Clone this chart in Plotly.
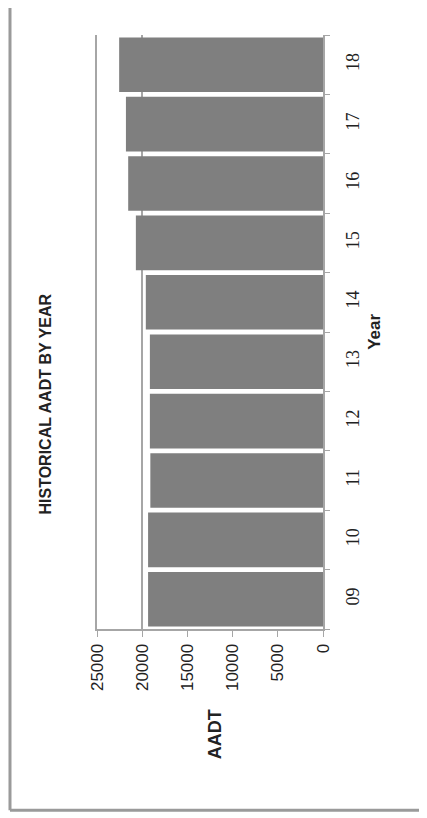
import plotly.graph_objects as go

# -----------------------------
# Data
# -----------------------------
years = ["09", "10", "11", "12", "13", "14", "15", "16", "17", "18"]
aadt = [19350, 19350, 19100, 19150, 19150, 19600, 20700, 21550, 21800, 22550]
value_ticks = [0, 5000, 10000, 15000, 20000, 25000]
ref_line = [20000]

bar_color = "#7f7f7f"
axis_color = "#a6a6a6"
text_color = "#222222"

fig = go.Figure()

fig.add_trace(go.Bar(
    x=aadt, y=years, orientation="h",
    marker=dict(color=bar_color, line=dict(width=0)),
    showlegend=False, xaxis="x", yaxis="y"
))
# invisible helper so the overlay axis (20000 grid line) gets drawn
fig.add_trace(go.Scatter(
    x=aadt, y=years, mode="none", hoverinfo="skip",
    showlegend=False, xaxis="x2", yaxis="y"
))

# -----------------------------
# Layout (page body adds 8px, so the figure is drawn 8px smaller)
# -----------------------------
fig.update_layout(
    width=419, height=810,
    margin=dict(l=89, r=104, t=27, b=189),
    paper_bgcolor="white",
    plot_bgcolor="white",
    bargap=0.08,
    xaxis=dict(
        range=[25000, 0],
        tickvals=value_ticks,
        ticktext=[str(v) for v in value_ticks],
        tickangle=-90,
        ticks="outside", ticklen=6, tickcolor=axis_color,
        showline=True, linecolor=axis_color, linewidth=2,
        showgrid=False, zeroline=False,
        tickfont=dict(family="Liberation Sans", size=17, color=text_color),
    ),
    xaxis2=dict(
        overlaying="x", matches="x", range=[25000, 0],
        tickvals=ref_line, showticklabels=False, ticks="",
        showgrid=True, gridcolor=axis_color, gridwidth=2,
        zeroline=False, showline=False,
    ),
    yaxis=dict(
        type="category",
        categoryorder="array", categoryarray=years,
        side="right",
        tickangle=-90,
        ticks="outside", ticklen=5, tickcolor=axis_color,
        tickson="boundaries",
        showline=True, linecolor=axis_color, linewidth=2, mirror=True,
        showgrid=False, zeroline=False,
        ticklabelstandoff=12,
        tickfont=dict(family="Liberation Serif", size=18, color=text_color),
    ),
    font=dict(family="Liberation Sans", color=text_color),
)

# titles (rotated like the rest of the chart)
fig.add_annotation(
    text="<b>HISTORICAL AADT BY YEAR</b>", textangle=-90,
    xref="paper", yref="paper", x=-0.23, y=0.378,
    xanchor="center", yanchor="middle",
    showarrow=False, font=dict(size=16, color=text_color),
)
fig.add_annotation(
    text="<b>Year</b>", textangle=-90,
    xref="paper", yref="paper", x=1.225, y=0.5,
    xanchor="center", yanchor="middle",
    showarrow=False, font=dict(size=17, color=text_color),
)
fig.add_annotation(
    text="<b>AADT</b>", textangle=-90,
    xref="paper", yref="paper", x=0.52, y=-0.178,
    xanchor="center", yanchor="middle",
    showarrow=False, font=dict(size=18, color=text_color),
)

# chart frame
fig.add_shape(type="line", xref="paper", yref="paper",
              x0=-0.385, x1=-0.385, y0=-0.305, y1=1.054,
              line=dict(color="#9a9a9a", width=3))
fig.add_shape(type="line", xref="paper", yref="paper",
              x0=-0.385, x1=1.6, y0=-0.305, y1=-0.305,
              line=dict(color="#9a9a9a", width=3))
fig.add_shape(type="line", xref="paper", yref="paper",
              x0=-0.385, x1=1.6, y0=1.054, y1=1.054,
              line=dict(color="#e6e6e6", width=1))

fig.write_html("out.html")
